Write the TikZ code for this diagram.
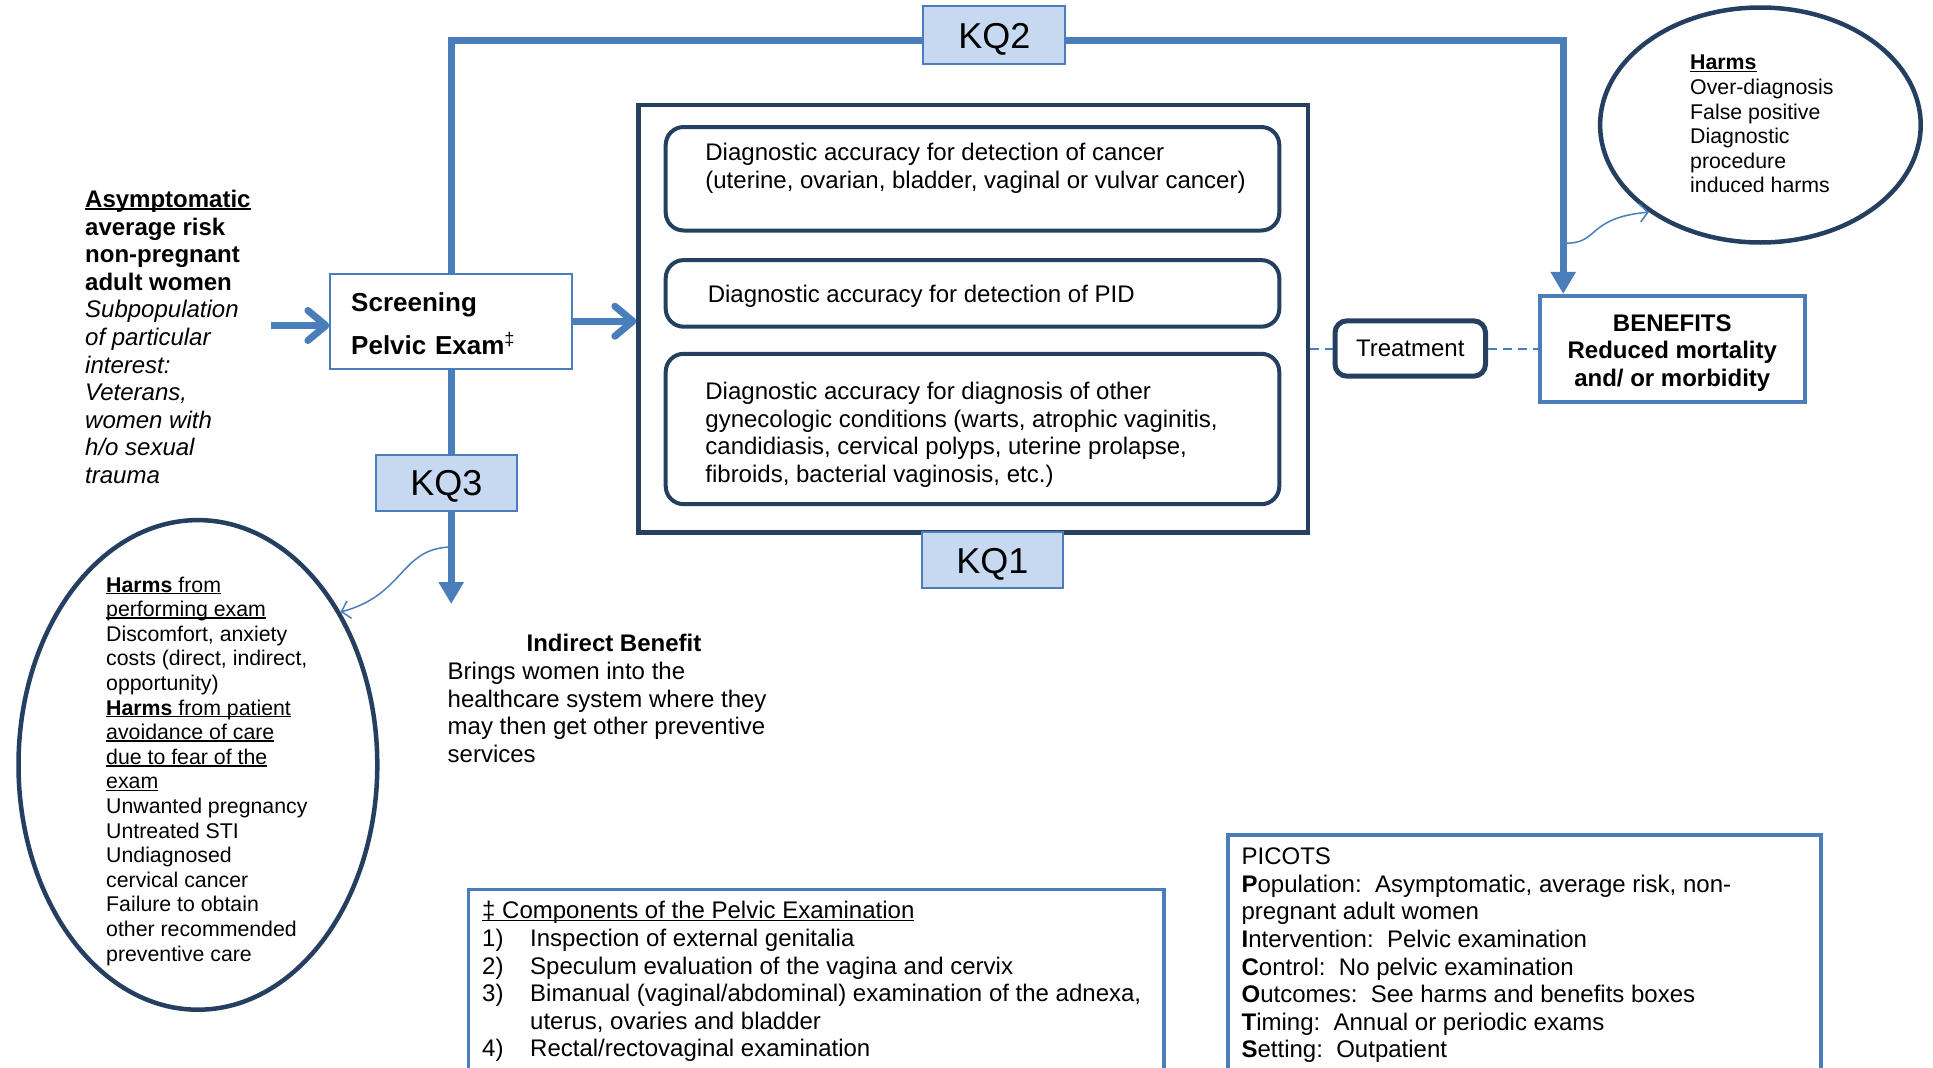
\documentclass[tikz,border=0pt]{standalone}
\usepackage{fontspec}
\setmainfont{Liberation Sans}
\usetikzlibrary{arrows.meta,shapes.geometric}
\definecolor{bline}{RGB}{74,126,187}
\definecolor{kqfill}{RGB}{198,217,241}
\definecolor{navy}{RGB}{36,63,96}
\newsavebox\ulbox
\newcommand\ulx[1]{\sbox\ulbox{#1}\rlap{\rule[-0.11em]{\wd\ulbox}{0.07em}}\usebox\ulbox}
\begin{document}
\begin{tikzpicture}[x=1pt,y=-1pt,
  txt/.style={inner sep=0pt, anchor=north west, align=left, font=\fontsize{24}{27.6}\selectfont},
  smalltxt/.style={inner sep=0pt, anchor=north west, align=left, font=\fontsize{21.3}{24.6}\selectfont},
  kq/.style={draw=bline, fill=kqfill, line width=2pt, minimum width=141pt, minimum height=56pt, inner sep=0pt, text height=26pt, text depth=0pt, font=\fontsize{36}{40}\selectfont},
  innerbox/.style={draw=navy, line width=4pt, rounded corners=18pt, minimum width=613.6pt, inner sep=0pt},
  bigflow/.style={draw=bline, line width=7pt},
  openarrow/.style={bigflow, -{Straight Barb[length=18pt,width=30pt,round]}},
  triarrow/.style={bigflow, -{Triangle[length=22pt,width=24pt]}},
  thinarrow/.style={draw=bline, line width=1.5pt, -{Straight Barb[length=8pt,width=18pt]}},
  dashline/.style={draw=bline, line width=2pt, dash pattern=on 9pt off 6pt},
  harmell/.style={ellipse, draw=navy, line width=4.5pt, inner sep=0pt},
  footbox/.style={draw=bline, line width=3.5pt, inner sep=0pt, anchor=north}
]
\useasboundingbox (0,0) rectangle (1933,1068);
\fill[white] (0,0) rectangle (1933,1068);
\clip (0,0) rectangle (1933,1068);

% main nodes
\node[draw=bline, line width=2pt, minimum width=241.6pt, minimum height=94.9pt,
      text width=200pt, inner xsep=20.8pt, inner ysep=0pt, align=left,
      font=\fontsize{26}{43}\selectfont\bfseries] (screen) at (451.2,321.2)
      {\rule{0pt}{24pt}Screening\\Pelvic Exam\textsuperscript{\mdseries ‡}};
\node[draw=navy, line width=4.5pt, minimum width=669.4pt, minimum height=427.8pt, inner sep=0pt] (bigbox) at (973.3,318.7) {};
\node[innerbox, minimum height=103.5pt] (b1) at (972.5,178.75) {};
\node[innerbox, minimum height=66.6pt] (b2) at (972.5,293.4) {};
\node[innerbox, minimum height=150.4pt] (b3) at (972.5,429) {};
\node[txt] (b1t) at (705.2,141.3) {\strut Diagnostic accuracy for detection of cancer\\(uterine, ovarian, bladder, vaginal or vulvar cancer)};
\node[txt] (b2t) at (707.6,282.6) {\strut Diagnostic accuracy for detection of PID};
\node[txt] (b3t) at (705.2,380) {\strut Diagnostic accuracy for diagnosis of other\\gynecologic conditions (warts, atrophic vaginitis,\\candidiasis, cervical polyps, uterine prolapse,\\fibroids, bacterial vaginosis, etc.)};

\node[draw=navy, line width=5pt, rounded corners=12pt, minimum width=150.5pt, minimum height=55.4pt,
      inner sep=0pt, font=\fontsize{24}{27.6}\selectfont] (treat) at (1410.25,348.5) {Treatment};
\node[draw=bline, line width=4pt, minimum width=265pt, minimum height=106pt, inner sep=0pt,
      align=center, font=\fontsize{24}{27.7}\selectfont\bfseries] (benef) at (1672.3,348.9)
      {\rule{0pt}{25pt}BENEFITS\\Reduced mortality\\and/ or morbidity};

\node[harmell, minimum width=320.6pt, minimum height=235pt] (harmsR) at (1760.4,125) {};
\node[harmell, minimum width=358.8pt, minimum height=489.6pt] (harmsL) at (197.9,764.9) {};

% connectors
\coordinate (topL) at (451.2,40.7);
\coordinate (topR) at (1563.2,40.7);
\draw[triarrow] (screen.north) -- (topL) -- (topR) -- (topR |- benef.north);
\coordinate (ibtip) at (451.2,604);
\draw[triarrow] (screen.south) -- (ibtip);
\coordinate (popR) at (271.2,325.5);
\draw[openarrow] (popR) -- (popR -| screen.west);
\draw[openarrow] (screen.east) -- (screen.east -| bigbox.west);
\draw[dashline] (bigbox.east |- treat.west) -- (treat.west);
\draw[dashline] (treat.east) -- (treat.east -| benef.west);
\coordinate (c2s) at (1563.2,243);
\draw[thinarrow] (c2s) .. controls (1600,245) and (1585,218) .. (harmsR.218);
\coordinate (c3s) at (451.2,547);
\draw[thinarrow] (c3s) .. controls (400,548) and (405,595) .. (harmsL.47.5);

% KQ labels
\node[kq, minimum width=141.7pt, minimum height=57.9pt] (kq2) at (994.3,35.2) {KQ2};
\node[kq] (kq1) at (992.4,560.3) {KQ1};
\node[kq] (kq3) at (446.3,482.7) {KQ3};

% texts
\node[txt] (pop) at (85,188) {\strut\ulx{\textbf{Asymptomatic}}\\\textbf{average risk}\\\textbf{non-pregnant}\\\textbf{adult women}\\\textit{Subpopulation}\\\textit{of particular}\\\textit{interest:}\\\textit{Veterans,}\\\textit{women with}\\\textit{h/o sexual}\\\textit{trauma}};

\node[smalltxt] (hRt) at (1690,52.4) {\strut\ulx{\textbf{Harms}}\\Over-diagnosis\\False positive\\Diagnostic\\procedure\\induced harms};

\node[smalltxt] (hLt) at (106,574.6) {\strut\ulx{\textbf{Harms} from}\\\ulx{performing exam}\\Discomfort, anxiety\\costs (direct, indirect,\\opportunity)\\\ulx{\textbf{Harms} from patient}\\\ulx{avoidance of care}\\\ulx{due to fear of the}\\\ulx{exam}\\Unwanted pregnancy\\Untreated STI\\Undiagnosed\\cervical cancer\\Failure to obtain\\other recommended\\preventive care};

\node[txt, anchor=north] (ibt) at (614,631.5) {\strut\textbf{Indirect Benefit}};
\node[txt] (ib) at (447.5,660) {\strut Brings women into the\\healthcare system where they\\may then get other preventive\\services};

% footnote boxes
\node[footbox, minimum width=695.3pt, minimum height=230pt] (comp) at (816.15,887.6) {};
\node[txt] (compt) at (482,899.3) {\strut\ulx{‡ Components of the Pelvic Examination}\\
\makebox[48pt][l]{1)}Inspection of external genitalia\\
\makebox[48pt][l]{2)}Speculum evaluation of the vagina and cervix\\
\makebox[48pt][l]{3)}Bimanual (vaginal/abdominal) examination of the adnexa,\\
\hspace*{48pt}uterus, ovaries and bladder\\
\makebox[48pt][l]{4)}Rectal/rectovaginal examination};

\node[footbox, minimum width=593pt, minimum height=280pt] (picots) at (1524.4,833.4) {};
\node[txt] (picotst) at (1241.4,845.2) {\strut PICOTS\\
\textbf{P}opulation:\ \ Asymptomatic, average risk, non-\\
pregnant adult women\\
\textbf{I}ntervention:\ \ Pelvic examination\\
\textbf{C}ontrol:\ \ No pelvic examination\\
\textbf{O}utcomes:\ \ See harms and benefits boxes\\
\textbf{T}iming:\ \ Annual or periodic exams\\
\textbf{S}etting:\ \ Outpatient};
\end{tikzpicture}
\end{document}
